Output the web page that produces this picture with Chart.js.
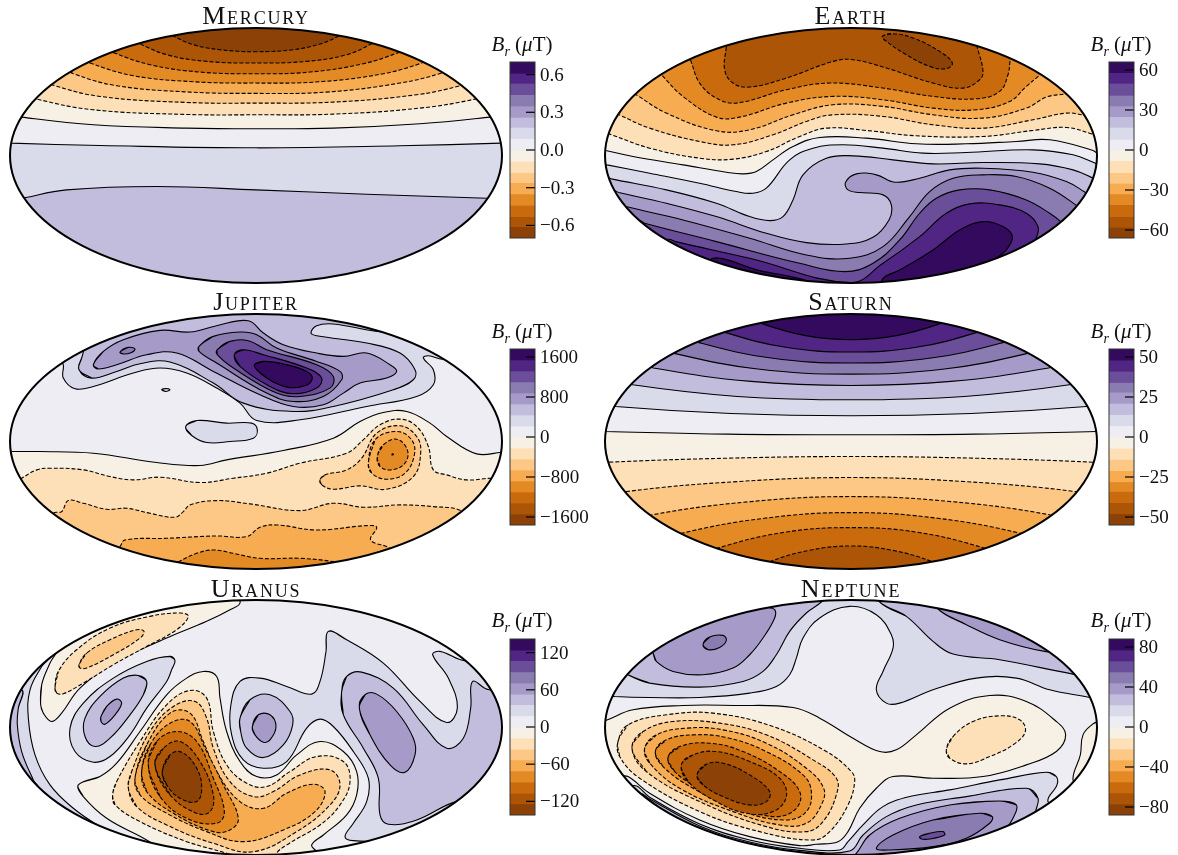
<!DOCTYPE html>
<html lang="en">
<head>
<meta charset="UTF-8">
<title>Planetary magnetic fields</title>
<style>
  html, body { margin: 0; background: white; }
  body { width: 1178px; height: 855px; overflow: hidden; position: relative; font-family: "Liberation Serif", serif; color: #111; }
  canvas { position: absolute; }
  .title { position: absolute; width: 300px; text-align: center; font-size: 26px; line-height: 30px; font-variant: small-caps; letter-spacing: 1.8px; }
  .unit { position: absolute; width: 110px; text-align: center; font-size: 21px; line-height: 22px; white-space: nowrap; }
  .unit sub { font-size: 14px; line-height: 0; }
</style>
<script src="https://cdn.jsdelivr.net/npm/chart.js"></script>
</head>
<body>
<script>
// map coordinates: ellipse half width 738, half height 382, north is up
const planetNames = ['Mercury', 'Earth', 'Jupiter', 'Saturn', 'Uranus', 'Neptune'];

// PuOr bands, 0 = most positive field, 15 = most negative
const bandColors = ['#330a5e', '#512584', '#6b4e99', '#8a7cb0', '#a59ac8', '#c2bddd', '#d9dbea', '#eeedf4',
                    '#f7f0e4', '#fde0b8', '#fdc885', '#f7ac52', '#e38a25', '#c96b0c', '#ac5506', '#8c4206'];

// everything outside the ellipse, used to close a contour around the map
const wholeMap = [-820, -440, 820, -440, 820, 440, -820, 440];
const capN = [820, 440, -820, 440];
const capWide = [900, -300, 900, 440, -900, 440, -900, -300];

const mercuryEdges = [0.7, 0.61, 0.53, 0.44, 0.35, 0.26, 0.18, 0.09, 0, -0.09, -0.18, -0.26, -0.35, -0.44, -0.53, -0.61, -0.7];
const mercuryTicks = [0.6, 0.3, 0, -0.3, -0.6];
const mercuryTickLabels = ['0.6', '0.3', '0.0', '\u22120.3', '\u22120.6'];
const mercuryBands = [5, 6, 7, 8, 9, 10, 11, 12, 13, 14, 15];
const mercuryDashed = [0, 0, 0, 0, 1, 1, 1, 1, 1, 1, 1];
const mercuryContours = [
  wholeMap,
  [-713,-133, -690,-126, -568,-103, -298,-93, 0,-103, 332,-116, 692,-128, 717,-130, ...capWide],
  [-758,39, -735,37, -468,30, 0,23, 432,29, 735,37, 757,38, ...capN],
  [-728,122, -703,115, -488,92, -208,82, 0,80, 232,82, 492,95, 702,115, 727,120, ...capN],
  [-683,182, -658,169, -488,137, -208,123, 0,122, 232,124, 492,142, 657,169, 682,182, ...capN],
  [-638,227, -613,212, -468,177, -208,159, 0,157, 232,160, 482,182, 612,209, 637,222, ...capN],
  [-573,262, -548,245, -418,209, -198,190, 0,186, 212,190, 432,217, 557,247, 582,262, ...capN],
  [-523,292, -498,277, -368,239, -188,221, 0,217, 192,221, 382,245, 497,277, 522,292, ...capN],
  [-453,322, -430,309, -318,272, -168,250, 0,245, 162,250, 322,275, 429,309, 452,322, ...capN],
  [-373,349, -353,337, -268,302, -148,282, 0,277, 152,282, 272,302, 352,337, 372,349, ...capN],
  [-268,372, -246,357, -188,332, -108,317, 0,311, 112,317, 192,334, 247,357, 272,372, ...capN],
];

const earthEdges = [66, 58, 50, 41, 33, 25, 17, 8, 0, -8, -17, -25, -33, -41, -50, -58, -66];
const earthTicks = [60, 30, 0, -30, -60];
const earthTickLabels = ['60', '30', '0', '\u221230', '\u221260'];
const earthBands = [1, 0, 0, 2, 3, 4, 5, 6, 7, 8, 9, 10, 11, 12, 13, 14, 15];
const earthDashed = [0, 0, 0, 0, 0, 0, 0, 0, 0, 0, 1, 1, 1, 1, 1, 1, 1];
const earthContours = [
  wholeMap,
  [94,-371, 146,-343, 246,-283, 326,-223, 396,-198, 456,-213, 484,-243, 466,-283, 436,-308, 416,-333, 246,-413, 106,-403],
  [-414,-308, -274,-345, -134,-375, -114,-403, -414,-363],
  [-549,-251, -526,-258, -304,-308, -2,-381, 96,-323, 206,-243, 286,-173, 356,-145, 446,-148, 526,-173, 561,-213, 556,-248, 546,-278, ...capWide],
  [-644,-193, -619,-203, -404,-258, -154,-323, -19,-348, 66,-323, 146,-253, 206,-173, 256,-128, 326,-103, 416,-103, 526,-133, 596,-173, 629,-198, 651,-223, ...capWide],
  [-699,-145, -676,-153, -504,-193, -304,-248, -134,-298, -4,-308, 96,-273, 176,-183, 236,-108, 306,-68, 396,-58, 496,-63, 596,-98, 674,-148, 696,-168, ...capWide],
  [-719,-105, -696,-111, -554,-143, -404,-183, -254,-233, -134,-261, -14,-265, 66,-245, 114,-193, 121,-148, 96,-118, 26,-111, -9,-103, -16,-80, 16,-55, 76,-58, 131,-80, 206,-68, 296,-43, 396,-38, 546,-50, 646,-78, 699,-108, 721,-125, ...capWide],
  [-744,-63, -719,-70, -554,-103, -404,-143, -304,-183, -244,-195, -204,-183, -174,-133, -144,-58, -74,-8, 6,-1, 126,-13, 246,-25, 396,-21, 566,-25, 666,-43, 726,-68, 751,-81, ...capWide],
  [-754,-23, -732,-28, -604,-53, -454,-83, -344,-108, -294,-113, -254,-98, -184,-13, -114,22, -24,32, 96,22, 216,7, 346,9, 546,17, 666,2, 733,-23, 756,-33, ...capN],
  [-759,20, -736,15, -654,-3, -504,-28, -374,-50, -324,-55, -284,-48, -234,-13, -174,27, -94,54, 46,52, 196,35, 346,35, 496,42, 596,47, 726,15, 751,2, ...capN],
  [-749,72, -724,64, -604,22, -454,-8, -354,-11, -254,12, -154,57, -74,82, 46,75, 196,59, 396,57, 546,75, 646,84, 724,64, 746,55, ...capN],
  [-719,132, -696,122, -604,82, -454,42, -354,32, -234,62, -134,102, -54,122, 96,117, 246,92, 396,82, 546,107, 646,127, 694,122, 721,117, ...capN],
  [-659,192, -641,180, -554,127, -404,74, -304,77, -174,122, -54,152, 96,147, 246,122, 396,112, 526,142, 586,175, 641,184, 666,187, ...capN],
  [-589,262, -569,242, -504,177, -404,115, -334,115, -194,157, -54,177, 96,167, 246,142, 376,137, 476,162, 526,207, 564,239, 591,262, ...capN],
  [-492,307, -482,287, -454,217, -404,172, -344,157, -194,197, -64,217, 96,202, 246,177, 376,170, 446,192, 471,242, 478,287, 486,312, ...capN],
  [-372,352, -374,327, -379,257, -354,217, -304,205, -194,232, -54,282, 6,287, 106,262, 246,217, 336,202, 386,227, 396,252, 378,327, 371,352, ...capN],
  [94,357, 126,365, 186,352, 266,312, 304,277, 286,260, 236,267, 166,302, 106,342],
];

const jupiterEdges = [1760, 1540, 1320, 1100, 880, 660, 440, 220, 0, -220, -440, -660, -880, -1100, -1320, -1540, -1760];
const jupiterTicks = [1600, 800, 0, -800, -1600];
const jupiterTickLabels = ['1600', '800', '0', '\u2212800', '\u22121600'];
const jupiterBands = [11, 12, 10, 9, 8, 7, 10, 11, 12, 13, 6, 6, 5, 4, 3, 3, 2, 1, 0, 8];
const jupiterDashed = [0, 1, 1, 1, 1, 0, 1, 1, 1, 1, 0, 0, 0, 0, 0, 0, 0, 0, 0, 0];
const jupiterContours = [
  wholeMap,
  [-258,-370, -233,-360, -178,-335, -128,-325, -68,-335, 12,-350, 132,-350, 232,-360, 262,-370, 232,-425, -228,-425],
  [-423,-335, -408,-315, -393,-295, -268,-290, -118,-283, -28,-285, 12,-257, 62,-250, 182,-265, 332,-252, 362,-257, 344,-295, 397,-317, 422,-335, ...capWide],
  [-623,-225, -605,-213, -583,-210, -563,-177, -518,-185, -448,-203, -388,-200, -318,-215, -243,-227, -218,-210, -198,-190, -118,-177, -18,-187, 132,-207, 232,-185, 322,-197, 432,-190, 532,-195, 610,-205, 632,-230, ...capWide],
  [-723,-120, -703,-110, -658,-85, -618,-80, -518,-85, -438,-105, -368,-115, -288,-107, -168,-123, -68,-110, 32,-95, 132,-65, 272,-35, 322,5, 372,50, 432,67, 482,45, 517,-15, 532,-85, 572,-100, 632,-115, 702,-110, 727,-110, ...capWide],
  [-758,-28, -733,-30, -648,-30, -488,-35, -298,-63, -168,-72, -88,-55, 82,-27, 232,10, 312,60, 382,87, 452,90, 522,55, 572,15, 662,-37, 737,-32, 762,-30, ...capN],
  [192,-115, 207,-100, 272,-85, 317,-50, 362,25, 432,47, 482,15, 494,-35, 472,-105, 392,-143, 312,-133, 232,-143, 197,-130],
  [337,-65, 357,5, 422,30, 467,5, 475,-40, 447,-95, 392,-113, 347,-95],
  [364,-45, 382,-10, 422,7, 454,-25, 447,-65, 407,-85, 372,-75],
  [408,-38, 412,-37, 412,-41, 409,-42],
  [-211,45, -178,63, -88,55, -13,55, 4,35, -8,10, -78,0, -148,-3, -193,18],
  [-588,255, -578,230, -578,190, -543,158, -488,165, -368,205, -288,220, -208,205, -118,160, -48,115, 2,63, 132,65, 332,105, 482,135, 532,170, 532,215, 502,250, 517,257, 562,247, 592,265, 400,400, 0,425, -400,400],
  [-531,215, -493,190, -418,210, -348,233, -258,238, -128,175, -38,115, 112,90, 232,105, 412,155, 472,185, 477,215, 432,265, 332,295, 182,317, 165,325, 182,347, 232,352, 362,330, 412,330, 250,420, -250,420, -500,300, -523,250],
  [-488,230, -458,270, -398,305, -288,333, -198,328, -118,347, -23,362, 22,325, 82,290, 182,265, 262,255, 332,265, 402,230, 422,210, 392,190, 312,175, 262,145, 202,110, 112,105, 12,140, -128,210, -238,265, -328,260, -418,230, -473,217],
  [-408,268, -383,282, -363,277, -373,267, -398,262],
  [-171,285, -128,315, -48,328, 2,320, 62,280, 182,240, 252,210, 257,185, 202,135, 112,120, 32,145, -118,235, -171,270],
  [-116,275, -78,300, -23,302, 32,275, 182,230, 232,195, 222,160, 132,135, 62,145, -68,220, -116,260],
  [-65,260, -38,275, 22,260, 152,220, 197,190, 182,160, 112,143, 42,165, -48,225],
  [-5,227, 22,240, 92,230, 152,210, 169,190, 147,167, 92,163, 32,190],
  [-283,155, -271,159, -258,155, -271,150],
];

const saturnEdges = [55, 48, 41, 34, 28, 21, 14, 7, 0, -7, -14, -21, -28, -34, -41, -48, -55];
const saturnTicks = [50, 25, 0, -25, -50];
const saturnTickLabels = ['50', '25', '0', '\u221225', '\u221250'];
const saturnBands = [14, 13, 12, 11, 10, 9, 8, 7, 6, 5, 4, 3, 2, 1, 0];
const saturnDashed = [0, 1, 1, 1, 1, 1, 1, 0, 0, 0, 0, 0, 0, 0, 0];
const saturnContours = [
  wholeMap,
  [-270,-378, -244,-360, -125,-326, 0,-313, 125,-326, 244,-360, 270,-378, ...capWide],
  [-430,-340, -402,-320, -200,-272, 0,-258, 200,-272, 402,-320, 430,-340, ...capWide],
  [-535,-295, -508,-275, -260,-230, 0,-213, 260,-230, 508,-275, 535,-295, ...capWide],
  [-625,-240, -598,-220, -300,-180, 0,-165, 300,-180, 598,-220, 625,-240, ...capWide],
  [-700,-165, -674,-150, -340,-120, 0,-108, 340,-120, 674,-150, 700,-165, ...capWide],
  [-755,-67, -727,-62, -370,-50, 0,-45, 370,-50, 727,-62, 755,-67, ...capWide],
  [-765,31, -735,30, -370,22, 0,20, 370,22, 735,30, 765,31, ...capN],
  [-735,115, -706,105, -360,84, 0,77, 360,84, 706,105, 735,115, ...capN],
  [-685,185, -655,170, -340,135, 0,125, 340,135, 655,170, 685,185, ...capN],
  [-620,235, -593,220, -300,180, 0,168, 300,180, 593,220, 620,235, ...capN],
  [-555,280, -530,264, -280,217, 0,202, 280,217, 530,264, 555,280, ...capN],
  [-485,315, -458,297, -240,250, 0,235, 240,250, 458,297, 485,315, ...capN],
  [-405,345, -378,327, -200,283, 0,268, 200,283, 378,327, 405,345, ...capN],
  [-300,372, -273,355, -140,318, 0,305, 140,318, 273,355, 300,372, ...capN],
];

const uranusEdges = [142, 124, 107, 89, 71, 53, 36, 18, 0, -18, -36, -53, -71, -89, -107, -124, -142];
const uranusTicks = [120, 60, 0, -60, -120];
const uranusTickLabels = ['120', '60', '0', '\u221260', '\u2212120'];
const uranusBands = [7, 6, 5, 8, 9, 10, 6, 5, 4, 8, 9, 10, 11, 12, 13, 14, 15, 6, 5, 4, 5, 4];
const uranusDashed = [0, 0, 0, 0, 1, 1, 0, 0, 0, 0, 1, 1, 1, 1, 1, 1, 1, 0, 0, 0, 0, 0];
const uranusContours = [
  wholeMap,
  [-628,203, -643,183, -678,113, -683,28, -663,-82, -618,-172, -548,-242, -468,-297, -368,-350, -348,-402, -798,-342, -828,158],
  [-703,113, -713,58, -716,8, -703,-72, -668,-157, -653,-182, -798,-142, -798,108],
  [-646,68, -643,128, -618,193, -598,233, -618,258, -368,378, -68,408, -48,373, -78,353, -148,318, -268,268, -418,198, -528,118, -583,43, -613,18, -638,43],
  [-603,118, -593,168, -538,233, -438,298, -318,333, -228,343, -203,333, -238,293, -328,243, -428,188, -518,133, -578,101, -598,103],
  [-531,188, -508,223, -438,263, -358,293, -336,288, -348,268, -428,218, -508,178, -528,178],
  [-243,200, -258,213, -328,198, -428,148, -518,73, -558,-2, -543,-72, -488,-104, -438,-87, -378,-22, -328,58, -268,138, -253,173],
  [-328,138, -353,156, -398,148, -468,93, -513,28, -513,-27, -483,-57, -438,-32, -378,38, -338,98],
  [-465,33, -448,63, -418,85, -403,73, -423,38, -453,10, -465,18],
  [-533,-172, -468,-147, -418,-107, -348,-12, -268,98, -208,148, -158,168, -118,153, -108,88, -88,-12, -48,-102, 2,-147, 62,-142, 122,-82, 192,-42, 262,-72, 302,-132, 302,-202, 272,-262, 202,-322, 167,-352, 182,-372, 202,-402, -68,-422, -228,-402, -328,-337, -448,-272, -518,-207],
  [-430,-202, -418,-162, -348,-42, -268,68, -198,111, -148,88, -128,-12, -88,-112, -28,-167, 32,-177, 102,-132, 182,-87, 262,-102, 282,-162, 252,-232, 192,-292, 92,-352, 62,-380, 92,-402, -28,-402, -88,-377, -208,-342, -348,-282, -423,-232],
  [-383,-182, -373,-132, -318,-12, -248,63, -183,78, -148,28, -128,-62, -78,-162, -8,-207, 52,-192, 132,-142, 222,-127, 252,-172, 222,-232, 122,-312, -8,-372, -128,-347, -268,-292, -358,-237],
  [-363,-152, -328,-52, -258,43, -198,43, -158,-42, -118,-132, -48,-222, 22,-242, 92,-197, 172,-170, 207,-192, 177,-252, 82,-307, -38,-342, -148,-312, -268,-257, -348,-202],
  [-343,-132, -318,-52, -258,13, -198,18, -148,-72, -98,-172, -53,-272, -78,-307, -128,-312, -248,-257, -328,-192],
  [-323,-112, -298,-42, -238,-12, -178,-42, -128,-152, -95,-252, -118,-287, -208,-272, -288,-207],
  [-303,-112, -278,-62, -228,-42, -168,-102, -128,-202, -138,-252, -178,-257, -258,-202],
  [-281,-132, -258,-82, -223,-74, -178,-122, -163,-182, -178,-222, -228,-212, -268,-172],
  [217,288, 210,228, 192,138, 167,100, 92,123, 12,148, -48,138, -76,63, -73,-22, -38,-97, 22,-122, 92,-102, 152,-2, 192,25, 232,3, 292,-72, 337,-152, 332,-222, 292,-287, 267,-327, 292,-339, 382,-337, 532,-302, 832,-42, 662,218, 627,200, 552,228, 530,218, 577,148, 604,58, 572,15, 492,78, 382,193, 272,263],
  [-48,28, -18,83, 42,98, 102,48, 110,8, 82,-52, 22,-90, -28,-62, -46,-12],
  [-11,3, 7,38, 42,38, 60,3, 42,-37, 22,-44, -3,-22],
  [257,108, 272,153, 317,166, 412,118, 502,8, 572,-62, 622,-32, 644,58, 650,138, 702,113, 792,158, 792,-192, 632,-242, 602,-222, 482,-277, 397,-290, 372,-262, 367,-152, 322,-62, 262,38],
  [310,58, 327,98, 362,100, 422,48, 472,-32, 477,-82, 447,-134, 402,-112, 342,-22],
];

const neptuneEdges = [88, 77, 66, 55, 44, 33, 22, 11, 0, -11, -22, -33, -44, -55, -66, -77, -88];
const neptuneTicks = [80, 40, 0, -40, -80];
const neptuneTickLabels = ['80', '40', '0', '\u221240', '\u221280'];
const neptuneBands = [7, 6, 5, 5, 4, 3, 4, 8, 8, 6, 5, 4, 3, 2, 9, 10, 11, 12, 13, 14, 15, 9];
const neptuneDashed = [0, 0, 0, 0, 0, 0, 0, 0, 0, 0, 0, 0, 0, 0, 1, 1, 1, 1, 1, 1, 1, 1];
const neptuneContours = [
  wholeMap,
  [-734,96, -709,93, -604,90, -454,90, -304,103, -224,123, -184,158, -164,208, -144,268, -94,328, -4,363, 76,338, 121,278, 126,238, 96,168, 76,113, 106,73, 146,73, 246,113, 376,148, 496,148, 596,113, 716,90, 741,83, ...capN],
  [-669,158, -604,133, -454,121, -324,138, -264,168, -224,218, -184,288, -134,343, -89,376, -74,398, -454,398, -714,188],
  [86,376, 166,333, 246,258, 306,220, 446,203, 666,160, 696,158, 546,338, 86,408],
  [-594,223, -584,198, -534,168, -444,158, -354,178, -304,218, -264,268, -229,328, -229,353, -254,363, -274,398, -614,268],
  [-444,248, -424,271, -384,276, -374,261, -394,240, -429,233],
  [261,355, 346,308, 446,263, 581,228, 616,233, 446,368, 261,388],
  [-754,18, -736,21, -654,53, -504,66, -354,66, -174,60, -94,28, 6,-32, 86,-72, 136,-67, 196,-22, 296,58, 416,96, 526,78, 616,18, 644,-22, 616,-72, 526,-112, 396,-147, 246,-152, 126,-147, 76,-182, 26,-242, -9,-312, -39,-342, -104,-350, -154,-354, -304,-327, -454,-277, -604,-197, -669,-147, -704,-142, -774,-42],
  [741,18, 726,11, 696,-22, 688,-82, 666,-157, 696,-182, 806,-72, 776,38],
  [586,-134, 446,-157, 296,-187, 176,-207, 96,-237, 36,-292, -9,-342, -34,-367, -154,-362, -304,-337, -454,-289, -604,-209, -649,-174, -684,-202, -354,-412, 246,-432, 646,-262, 591,-222, 618,-172, 616,-147],
  [526,-182, 346,-207, 196,-232, 106,-267, 36,-322, -4,-370, -154,-368, -304,-343, -454,-295, -604,-214, -634,-197, -664,-222, -354,-422, 246,-442, 606,-282, 556,-262, 561,-212],
  [446,-220, 296,-232, 146,-272, 56,-322, 16,-377, -14,-402, 246,-432, 346,-402, 461,-307, 486,-272, 496,-232],
  [386,-257, 246,-277, 126,-322, 76,-362, 116,-367, 246,-357, 346,-332, 416,-287, 424,-267],
  [206,-327, 236,-317, 276,-312, 281,-322, 236,-334, 211,-334],
  [-699,-42, -669,8, -554,38, -414,43, -234,3, -74,-72, 1,-132, 11,-162, -9,-232, -64,-312, -114,-337, -274,-312, -454,-252, -634,-152, -694,-87],
  [-657,-62, -624,-12, -534,18, -394,13, -254,-22, -114,-97, -44,-152, -44,-202, -84,-282, -134,-312, -254,-297, -454,-222, -614,-132],
  [-619,-62, -584,-22, -494,-2, -384,-7, -254,-47, -134,-122, -82,-182, -89,-232, -134,-287, -214,-292, -354,-252, -514,-182, -604,-107],
  [-587,-72, -554,-37, -474,-22, -374,-30, -254,-72, -144,-142, -119,-192, -134,-252, -194,-277, -324,-252, -474,-182, -564,-117],
  [-549,-90, -514,-57, -424,-47, -324,-72, -214,-132, -154,-192, -164,-242, -224,-267, -324,-242, -464,-177, -529,-132],
  [-509,-112, -474,-82, -404,-72, -304,-102, -214,-152, -194,-207, -234,-252, -314,-257, -404,-222, -489,-162],
  [-462,-142, -434,-110, -384,-107, -304,-142, -244,-192, -254,-222, -304,-232, -384,-207, -444,-172],
  [286,-67, 306,-27, 366,18, 446,35, 506,23, 523,-12, 486,-52, 416,-87, 346,-109, 296,-92],
];

const planetBands = [mercuryBands, earthBands, jupiterBands, saturnBands, uranusBands, neptuneBands];
const planetDashed = [mercuryDashed, earthDashed, jupiterDashed, saturnDashed, uranusDashed, neptuneDashed];
const planetContours = [mercuryContours, earthContours, jupiterContours, saturnContours, uranusContours, neptuneContours];
const planetEdges = [mercuryEdges, earthEdges, jupiterEdges, saturnEdges, uranusEdges, neptuneEdges];
const planetTicks = [mercuryTicks, earthTicks, jupiterTicks, saturnTicks, uranusTicks, neptuneTicks];
const planetTickLabels = [mercuryTickLabels, earthTickLabels, jupiterTickLabels, saturnTickLabels, uranusTickLabels, neptuneTickLabels];

// layout of the 2x3 grid
const mapLeft = [10, 605];
const mapTop = [28, 314, 600];
const barLeft = [510, 1109];
const barTop = [62, 349, 639];
const titleBaseTop = [1, 287, 574];
const unitTop = [33, 320, 609];
const MAP_PAD = 6;
const BAR_PAD = 20;

function addCanvas(left, top, width, height) {
  const canvas = document.createElement('canvas');
  canvas.width = width;
  canvas.height = height;
  canvas.style.left = left + 'px';
  canvas.style.top = top + 'px';
  document.body.appendChild(canvas);
  return canvas;
}

// smooth closed loop: repeat the neighbours of the seam so the spline has no corner there
function closedLoop(flat) {
  const pts = [];
  for (let i = 0; i < flat.length; i += 2) pts.push({ x: flat[i], y: flat[i + 1] });
  return [pts[pts.length - 1], ...pts, pts[0], pts[1]];
}

const ellipseClip = {
  id: 'ellipseClip',
  beforeDatasetsDraw(chart) {
    const { x, y } = chart.scales;
    const ctx = chart.ctx;
    ctx.save();
    ctx.beginPath();
    ctx.ellipse(x.getPixelForValue(0), y.getPixelForValue(0), (x.right - x.left) / 2, (y.bottom - y.top) / 2, 0, 0, Math.PI * 2);
    ctx.clip();
  },
  afterDatasetsDraw(chart) {
    const { x, y } = chart.scales;
    const ctx = chart.ctx;
    ctx.restore();
    ctx.beginPath();
    ctx.ellipse(x.getPixelForValue(0), y.getPixelForValue(0), (x.right - x.left) / 2, (y.bottom - y.top) / 2, 0, 0, Math.PI * 2);
    ctx.lineWidth = 2;
    ctx.strokeStyle = '#000';
    ctx.stroke();
  }
};

const barFrame = {
  id: 'barFrame',
  afterDatasetsDraw(chart) {
    const { left, right, top, bottom } = chart.chartArea;
    const ctx = chart.ctx;
    ctx.save();
    ctx.strokeStyle = '#000';
    ctx.lineWidth = 1.2;
    chart.scales.y.ticks.forEach(t => {
      const py = chart.scales.y.getPixelForValue(t.value);
      ctx.beginPath();
      ctx.moveTo(right - 9, py);
      ctx.lineTo(right, py);
      ctx.stroke();
    });
    ctx.strokeStyle = '#333';
    ctx.lineWidth = 1;
    ctx.strokeRect(left, top, right - left, bottom - top);
    ctx.restore();
  }
};

function drawMap(i) {
  const col = i % 2, row = Math.floor(i / 2);
  const canvas = addCanvas(mapLeft[col] - MAP_PAD, mapTop[row] - MAP_PAD, 492 + 2 * MAP_PAD, 255 + 2 * MAP_PAD);
  const datasets = planetContours[i].map((flat, k) => ({
    data: closedLoop(flat),
    showLine: true,
    fill: 'shape',
    backgroundColor: bandColors[planetBands[i][k]],
    borderColor: '#000',
    borderWidth: 1.1,
    borderDash: planetDashed[i][k] ? [4, 2] : [],
    borderJoinStyle: 'round',
    pointRadius: 0,
    tension: 0.4,
    capBezierPoints: false
  }));
  // chart.js paints the first dataset last, contours are listed bottom to top
  datasets.reverse();
  new Chart(canvas, {
    type: 'scatter',
    data: { datasets },
    options: {
      responsive: false,
      animation: false,
      events: [],
      layout: { padding: MAP_PAD },
      plugins: { legend: { display: false }, tooltip: { enabled: false } },
      scales: {
        x: { type: 'linear', min: -738, max: 738, display: false },
        y: { type: 'linear', min: -382, max: 382, display: false }
      }
    },
    plugins: [ellipseClip]
  });
}

function drawBar(i) {
  const col = i % 2, row = Math.floor(i / 2);
  const canvas = addCanvas(barLeft[col] - 2, barTop[row] - BAR_PAD, 2 + 25 + 62, 176 + 2 * BAR_PAD);
  const edges = planetEdges[i];
  const datasets = bandColors.map((color, b) => ({
    data: [[edges[b + 1], edges[b]]],
    backgroundColor: color,
    borderWidth: 0,
    grouped: false,
    barPercentage: 1,
    categoryPercentage: 1
  }));
  new Chart(canvas, {
    type: 'bar',
    data: { labels: ['Br'], datasets },
    options: {
      responsive: false,
      animation: false,
      events: [],
      layout: { padding: { left: 2, right: 0, top: BAR_PAD, bottom: BAR_PAD } },
      plugins: { legend: { display: false }, tooltip: { enabled: false } },
      scales: {
        x: { display: false },
        y: {
          position: 'right',
          min: edges[16],
          max: edges[0],
          grid: { display: false, drawTicks: false },
          border: { display: false },
          afterFit(scale) { scale.width = 62; },
          afterBuildTicks(scale) { scale.ticks = planetTicks[i].map(value => ({ value })); },
          ticks: {
            autoSkip: false,
            padding: 5,
            labelOffset: 1,
            color: '#111',
            font: { family: '"Liberation Serif", serif', size: 19 },
            callback: (value, index) => planetTickLabels[i][index]
          }
        }
      }
    },
    plugins: [barFrame]
  });
}

function addLabels(i) {
  const col = i % 2, row = Math.floor(i / 2);
  const title = document.createElement('div');
  title.className = 'title';
  title.textContent = planetNames[i];
  title.style.left = (mapLeft[col] + 246 - 150) + 'px';
  title.style.top = titleBaseTop[row] + 'px';
  document.body.appendChild(title);

  const unit = document.createElement('div');
  unit.className = 'unit';
  unit.innerHTML = '<i>B<sub>r</sub></i>&nbsp;(<i>\u03bc</i>T)';
  unit.style.left = (barLeft[col] + 12 - 55) + 'px';
  unit.style.top = unitTop[row] + 'px';
  document.body.appendChild(unit);
}

planetNames.forEach((name, i) => {
  drawMap(i);
  drawBar(i);
  addLabels(i);
});
</script>
</body>
</html>
